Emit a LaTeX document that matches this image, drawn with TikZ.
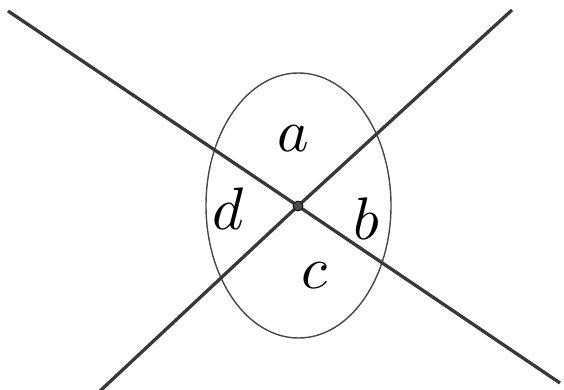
\documentclass[tikz,border=0pt]{standalone}
\usepackage{graphicx}
\newcommand{\biglab}[1]{\scalebox{6}{$#1$}}
\begin{document}
\begin{tikzpicture}[x=1pt,y=-1pt,
  mainline/.style={line width=3.3pt,color=black!78},
  oval/.style={line width=1.4pt,color=black!72},
  lab/.style={inner sep=0pt}]
\useasboundingbox (0,0) rectangle (564,390);
\coordinate (O) at (298,206);
\coordinate (L1a) at (8,11);
\coordinate (L1b) at (560,383);
\coordinate (L2a) at (512,10);
\coordinate (L2b) at (100,391);
\draw[oval] (298.5,205.5) ellipse [x radius=92.5, y radius=132.5];
\draw[mainline] (L1a) -- (O) -- (L1b);
\draw[mainline] (L2a) -- (O) -- (L2b);
\node[circle,draw=black,fill=black!70,line width=0.8pt,minimum size=10pt,inner sep=0pt] (dot) at (O) {};
\node[lab] (a) at (293,138.5) {\biglab{a}};
\node[lab] (d) at (228.5,209) {\biglab{d}};
\node[lab] (b) at (366.5,219) {\biglab{b}};
\node[lab] (c) at (314,276) {\biglab{c}};
\end{tikzpicture}
\end{document}
